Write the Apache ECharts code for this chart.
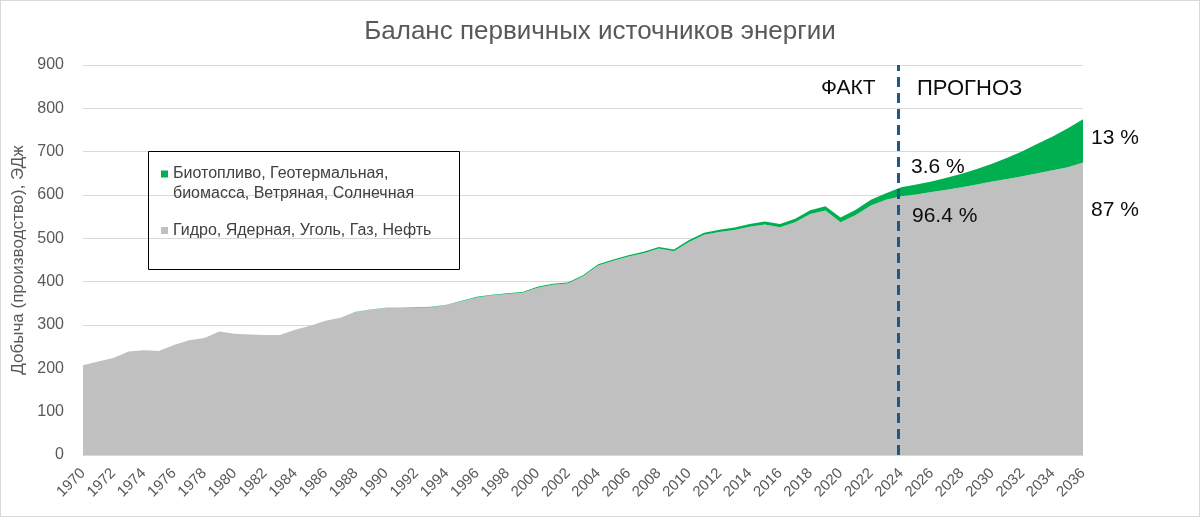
<!DOCTYPE html>
<html>
<head>
<meta charset="utf-8">
<script src="https://cdn.jsdelivr.net/npm/echarts@6/dist/echarts.min.js"></script>
<style>
html,body{margin:0;padding:0;background:#fff;}
#chart{width:1200px;height:517px;box-sizing:border-box;border:1px solid #d9d9d9;}
</style>
</head>
<body>
<div id="chart"></div>
<script>
const years = [];
for (let y = 1970; y <= 2036; y++) years.push(String(y));

const fossilName = 'Гидро, Ядерная, Уголь, Газ, Нефть';
const renewName = 'Биотопливо, Геотермальная, биомасса, Ветряная, Солнечная';

// Гидро, Ядерная, Уголь, Газ, Нефть (ЭДж)
const fossil = [
  207, 216, 224, 239, 242, 240, 254, 265, 270, 285,
  280, 278, 277, 277, 289, 298, 310, 317, 330, 335,
  339, 339, 340, 341, 346, 355, 363.5, 368.5, 371.5, 374.5,
  386, 393, 396, 412.5, 437.5, 448, 458, 465.5, 476.5, 470,
  491.5, 508, 514.5, 519, 526.5, 532, 525.5, 537, 556, 564,
  537, 554, 576, 589, 597, 601, 607, 612, 618, 624,
  631, 637, 643, 650, 657, 664, 675
];
// Биотопливо, Геотермальная, биомасса, Ветряная, Солнечная (ЭДж)
const renew = [
  0, 0, 0, 0, 0, 0, 0, 0, 0, 0,
  0, 0, 0, 0, 0, 0, 0, 0, 0.3, 0.6,
  1, 1, 1, 1, 1, 1, 1.5, 1.5, 1.5, 1.5,
  2, 2, 2, 2.5, 2.5, 3, 3, 3.5, 3.5, 4,
  4.5, 5, 5.5, 6, 6.5, 7, 7.5, 8, 9, 10,
  11, 12, 13, 15, 21, 23, 24, 28, 31, 36,
  41, 49, 58, 68, 78, 90, 100
];
const factEnd = 2023.8;

const chart = echarts.init(document.getElementById('chart'));
const txt = '#0d0d0d';
const ff = 'Liberation Sans, Arial';
chart.setOption({
  animation: false,
  backgroundColor: '#fff',
  title: {
    text: 'Баланс первичных источников энергии',
    left: 'center', top: 13,
    textStyle: {fontFamily: ff, fontSize: 26, fontWeight: 'normal', color: '#595959'}
  },
  grid: {left: 82, right: 116, top: 64, bottom: 61},
  legend: {
    orient: 'vertical', left: 160, top: 163, padding: 0,
    itemWidth: 7, itemHeight: 27, itemGap: 13,
    selectedMode: false,
    itemStyle: {borderWidth: 0},
    data: [
      {name: renewName, icon: 'path://M0,0h7v7h-7z M0,27h0.01'},
      {name: fossilName, icon: 'path://M0,10h7v7h-7z M0,0h0.01 M0,27h0.01'}
    ],
    formatter: n => n.replace(', биомасса', ',\nбиомасса'),
    textStyle: {fontFamily: ff, fontSize: 16, lineHeight: 20, color: '#404040'}
  },
  xAxis: [
    {
      type: 'category', data: years, boundaryGap: false,
      axisLine: {show: true, lineStyle: {color: '#d9d9d9'}},
      axisTick: {show: false},
      splitLine: {show: false},
      axisLabel: {interval: 1, rotate: 45, fontSize: 15, color: '#595959', fontFamily: ff, margin: 16}
    },
    {
      type: 'value', min: 1970, max: 2036, show: false, position: 'bottom'
    }
  ],
  yAxis: {
    type: 'value', min: 0, max: 900, interval: 100,
    name: 'Добыча (производство), ЭДж', nameLocation: 'middle', nameGap: 56,
    nameTextStyle: {fontSize: 17, color: '#595959', fontFamily: ff},
    axisLine: {show: false}, axisTick: {show: false},
    splitLine: {lineStyle: {color: '#d9d9d9', width: 1}},
    axisLabel: {fontSize: 16, color: '#595959', fontFamily: ff, margin: 19}
  },
  series: [
    {
      name: fossilName, type: 'line', stack: 'total', showSymbol: false,
      data: fossil,
      lineStyle: {width: 0}, itemStyle: {color: '#c0c0c0'},
      areaStyle: {color: '#c0c0c0', opacity: 1},
      z: 2
    },
    {
      name: renewName, type: 'line', stack: 'total', showSymbol: false,
      data: renew,
      lineStyle: {width: 0}, itemStyle: {color: '#00b050'},
      areaStyle: {color: '#00b050', opacity: 1},
      z: 3
    },
    {
      name: 'fact-border', type: 'line', xAxisIndex: 1, data: [],
      markLine: {
        silent: true, symbol: 'none',
        label: {show: false},
        lineStyle: {color: '#1a5a8a', type: [10, 6], width: 3},
        data: [{xAxis: factEnd}]
      },
      z: 5
    }
  ],
  graphic: [
    {type: 'rect', left: 145, top: 148, shape: {width: 311, height: 118}, style: {fill: 'none', stroke: '#000', lineWidth: 1}, z: 10},
    {type: 'text', left: 820, top: 77, style: {text: 'ФАКТ', fontSize: 21, fill: txt, fontFamily: ff}, z: 10},
    {type: 'text', left: 916, top: 77, style: {text: 'ПРОГНОЗ', fontSize: 22, fill: txt, fontFamily: ff}, z: 10},
    {type: 'text', left: 910, top: 156, style: {text: '3.6 %', fontSize: 21, fill: txt, fontFamily: ff}, z: 10},
    {type: 'text', left: 911, top: 205, style: {text: '96.4 %', fontSize: 21, fill: txt, fontFamily: ff}, z: 10},
    {type: 'text', left: 1090, top: 127, style: {text: '13 %', fontSize: 21, fill: txt, fontFamily: ff}, z: 10},
    {type: 'text', left: 1090, top: 199, style: {text: '87 %', fontSize: 21, fill: txt, fontFamily: ff}, z: 10}
  ]
});
</script>
</body>
</html>
